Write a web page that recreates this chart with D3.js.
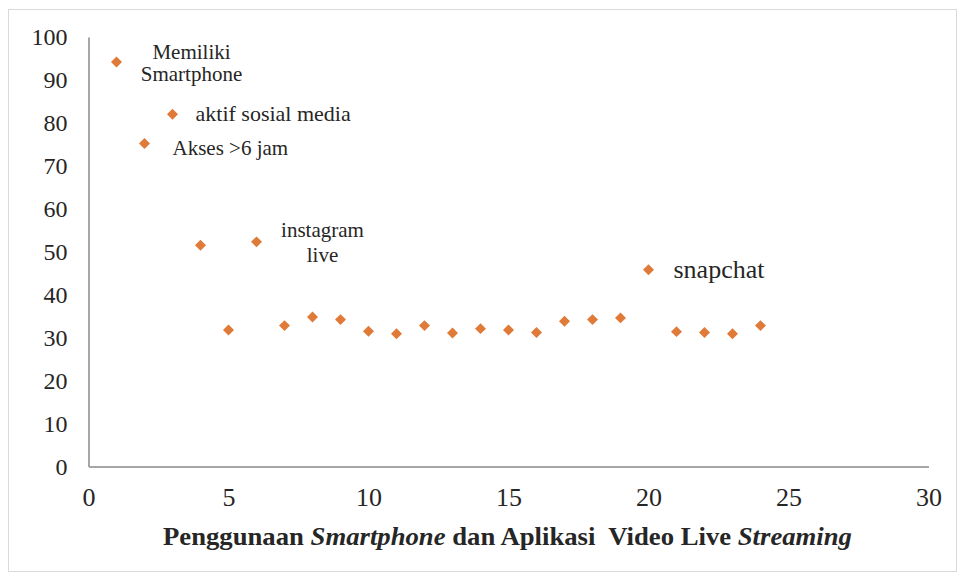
<!DOCTYPE html>
<html>
<head>
<meta charset="utf-8">
<script src="https://cdn.jsdelivr.net/npm/d3@7"></script>
<style>
  body { margin: 0; background: #fff; }
  text { font-family: "Liberation Serif", "Times New Roman", serif; fill: #262626; }
</style>
</head>
<body>
<div id="chart"></div>
<script>
// data
var xValues = [1, 2, 3, 4, 5, 6, 7, 8, 9, 10, 11, 12, 13, 14, 15, 16, 17, 18, 19, 20, 21, 22, 23, 24];
var yValues = [94.2, 75.2, 82.0, 51.5, 31.8, 52.3, 32.8, 34.8, 34.2, 31.5, 30.9, 32.8,
               31.1, 32.1, 31.8, 31.2, 33.8, 34.2, 34.6, 45.8, 31.4, 31.2, 30.9, 32.8];
var xTicks = [0, 5, 10, 15, 20, 25, 30];
var yTicks = [0, 10, 20, 30, 40, 50, 60, 70, 80, 90, 100];
var pointLabels = [
  { x: 1, lines: ["Memiliki", "Smartphone"] },
  { x: 3, lines: ["aktif sosial media"] },
  { x: 2, lines: ["Akses >6 jam"] },
  { x: 6, lines: ["instagram", "live"] },
  { x: 20, lines: ["snapchat"] }
];

var width = 958, height = 581;
var margin = { top: 37, right: 29.5, bottom: 114.5, left: 88.5 };

var svg = d3.select('#chart').append('svg')
    .attr('width', width)
    .attr('height', height);

// outer frame
svg.append('rect')
    .attr('x', 8.5).attr('y', 9.5)
    .attr('width', 948).attr('height', 562)
    .attr('fill', 'none')
    .attr('stroke', '#d9d9d9');

var x = d3.scaleLinear().domain([0, 30]).range([margin.left, width - margin.right]);
var y = d3.scaleLinear().domain([0, 100]).range([height - margin.bottom, margin.top]);

// x axis
var xAxis = svg.append('g')
    .attr('transform', 'translate(0,' + y(0) + ')')
    .call(d3.axisBottom(x).tickValues(xTicks).tickSize(0).tickPadding(21));
xAxis.select('.domain').attr('stroke', '#a6a6a6').attr('stroke-width', 2);
xAxis.selectAll('text')
    .style('font-family', '"Liberation Serif", serif')
    .style('font-size', '26px')
    .attr('fill', '#404040');

// y axis
var yAxis = svg.append('g')
    .attr('transform', 'translate(' + x(0) + ',0)')
    .call(d3.axisLeft(y).tickValues(yTicks).tickSize(0).tickPadding(21));
yAxis.select('.domain').attr('stroke', '#a6a6a6').attr('stroke-width', 2);
yAxis.selectAll('text')
    .style('font-family', '"Liberation Serif", serif')
    .style('font-size', '24px')
    .attr('fill', '#404040');

// points
svg.selectAll('path.pt')
    .data(xValues)
    .enter().append('path')
    .attr('class', 'pt')
    .attr('d', d3.symbol(d3.symbolSquare, 60))
    .attr('fill', '#e07a38')
    .attr('transform', function (d, i) {
      return 'translate(' + x(d) + ',' + y(yValues[i]) + ') rotate(45)';
    });

// labels next to points (offsets from the point, in px)
var labelStyle = {
  1:  { dx: 75, dy: -3, size: 21, anchor: 'middle', lh: 22 },
  3:  { dx: 23, dy: 7, size: 22, anchor: 'start', lh: 0 },
  2:  { dx: 28, dy: 11, size: 21, anchor: 'start', lh: 0 },
  6:  { dx: 66, dy: -5, size: 21, anchor: 'middle', lh: 25 },
  20: { dx: 25, dy: 8, size: 26, anchor: 'start', lh: 0 }
};
pointLabels.forEach(function (lab) {
  var idx = xValues.indexOf(lab.x);
  var st = labelStyle[lab.x];
  var t = svg.append('text')
      .attr('x', x(lab.x) + st.dx)
      .attr('y', y(yValues[idx]) + st.dy)
      .attr('text-anchor', st.anchor)
      .style('font-size', st.size + 'px');
  lab.lines.forEach(function (line, k) {
    t.append('tspan')
        .attr('x', x(lab.x) + st.dx)
        .attr('dy', k === 0 ? 0 : st.lh)
        .text(line);
  });
});

// x axis title
var title = svg.append('text')
    .attr('x', 163)
    .attr('y', 545)
    .attr('textLength', 689)
    .attr('lengthAdjust', 'spacingAndGlyphs')
    .style('font-size', '25px')
    .style('font-weight', 'bold')
    .style('white-space', 'pre')
    .attr('fill', '#1a1a1a');
title.append('tspan').text('Penggunaan ');
title.append('tspan').style('font-style', 'italic').text('Smartphone');
title.append('tspan').text(' dan Aplikasi  Video Live ');
title.append('tspan').style('font-style', 'italic').text('Streaming');
</script>
</body>
</html>
